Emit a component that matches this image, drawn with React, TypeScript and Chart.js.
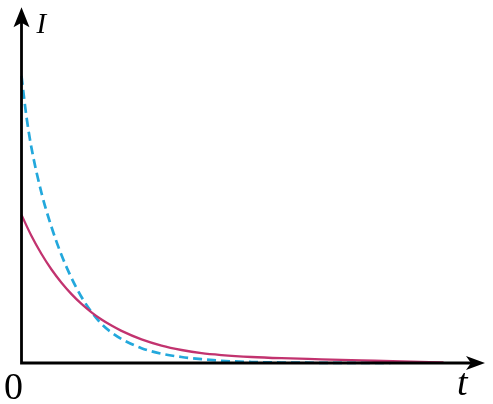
import React, { useEffect, useRef } from "react";
import { Chart, registerables } from "chart.js";

Chart.register(...registerables);

// time values (arbitrary units) and current values
const solidT = [0, 1, 2, 3, 4, 5, 6, 7, 8, 9, 10, 12, 14, 16, 18, 20, 23, 26, 30, 34, 38, 42.2];
const solidI = [14.8, 12.7, 10.9, 9.35, 8.03, 6.89, 5.91, 5.07, 4.35, 3.74, 3.21, 2.36, 1.74, 1.3, 0.98, 0.79, 0.6, 0.48, 0.37, 0.26, 0.15, 0.05];

const dashedT = [0, 0.5, 1, 2, 3, 4, 5, 6, 7, 8, 9, 10, 12, 14, 16, 18, 20, 23, 26, 30, 34, 36.9];
const dashedI = [28.7, 24.6, 21.5, 17.0, 13.6, 10.8, 8.5, 6.6, 5.1, 3.9, 3.05, 2.4, 1.48, 0.93, 0.6, 0.38, 0.22, 0.1, 0.05, 0.02, 0.01, 0.0];

const xMax = 46.35;
const yMax = 35.57;

const axisLabels = { y: "I", x: "t", origin: "0" };

const SERIF = "'Liberation Serif', 'Times New Roman', Tinos, 'DejaVu Serif', serif";

const axesPlugin = {
  id: "arrowAxes",
  afterDatasetsDraw(chart: any) {
    const { ctx, chartArea } = chart;
    const { left, right, top, bottom } = chartArea;
    ctx.save();
    ctx.strokeStyle = "#000";
    ctx.fillStyle = "#000";
    ctx.lineWidth = 2.8;
    ctx.beginPath();
    ctx.moveTo(left, bottom);
    ctx.lineTo(left, top + 12);
    ctx.moveTo(left - 1.4, bottom);
    ctx.lineTo(right - 12, bottom);
    ctx.stroke();
    // y arrow
    ctx.beginPath();
    ctx.moveTo(left, top);
    ctx.lineTo(left + 8, top + 20);
    ctx.lineTo(left, top + 15.5);
    ctx.lineTo(left - 8, top + 20);
    ctx.closePath();
    ctx.fill();
    // x arrow
    ctx.beginPath();
    ctx.moveTo(right, bottom);
    ctx.lineTo(right - 19, bottom - 7);
    ctx.lineTo(right - 14, bottom);
    ctx.lineTo(right - 19, bottom + 7);
    ctx.closePath();
    ctx.fill();
    // labels
    ctx.textBaseline = "alphabetic";
    ctx.textAlign = "left";
    ctx.font = "italic 29px " + SERIF;
    ctx.fillText(axisLabels.y, left + 15, top + 25.5);
    ctx.font = "italic 38px " + SERIF;
    ctx.fillText(axisLabels.x, right - 28, bottom + 32);
    ctx.font = "38px " + SERIF;
    ctx.fillText(axisLabels.origin, left - 17.5, bottom + 36);
    ctx.restore();
  },
};

export default function App() {
  const ref = useRef<HTMLCanvasElement | null>(null);
  useEffect(() => {
    let chart: Chart | null = null;
    let cancelled = false;
    const build = () => {
      if (cancelled || !ref.current) return;
      chart = new Chart(ref.current, {
        type: "line",
        data: {
          datasets: [
            {
              data: solidT.map((t, i) => ({ x: t, y: solidI[i] })),
              borderColor: "#c2336f",
              borderWidth: 2.3,
              pointRadius: 0,
              cubicInterpolationMode: "monotone",
              clip: false as any,
            },
            {
              data: dashedT.map((t, i) => ({ x: t, y: dashedI[i] })),
              borderColor: "#23a8dc",
              borderWidth: 2.7,
              borderDash: [9, 5],
              pointRadius: 0,
              cubicInterpolationMode: "monotone",
              clip: false as any,
            },
          ],
        },
        options: {
          animation: false,
          responsive: false,
          layout: { padding: { left: 21.5, right: 8, top: 7.3, bottom: 41 } },
          plugins: { legend: { display: false }, tooltip: { enabled: false } },
          scales: {
            x: { type: "linear", min: 0, max: xMax, display: false },
            y: { type: "linear", min: 0, max: yMax, display: false },
          },
        },
        plugins: [axesPlugin],
      });
    };
    const fonts: any = (document as any).fonts;
    if (fonts && fonts.load) {
      Promise.all([
        fonts.load("italic 29px " + SERIF, "It"),
        fonts.load("38px " + SERIF, "0"),
      ])
        .catch(() => null)
        .then(build);
    } else {
      build();
    }
    return () => {
      cancelled = true;
      if (chart) chart.destroy();
    };
  }, []);
  return (
    <div style={{ position: "absolute", left: 0, top: 0, width: 493, height: 404, background: "#fff" }}>
      <canvas ref={ref} width={493} height={404} style={{ display: "block" }} />
    </div>
  );
}
